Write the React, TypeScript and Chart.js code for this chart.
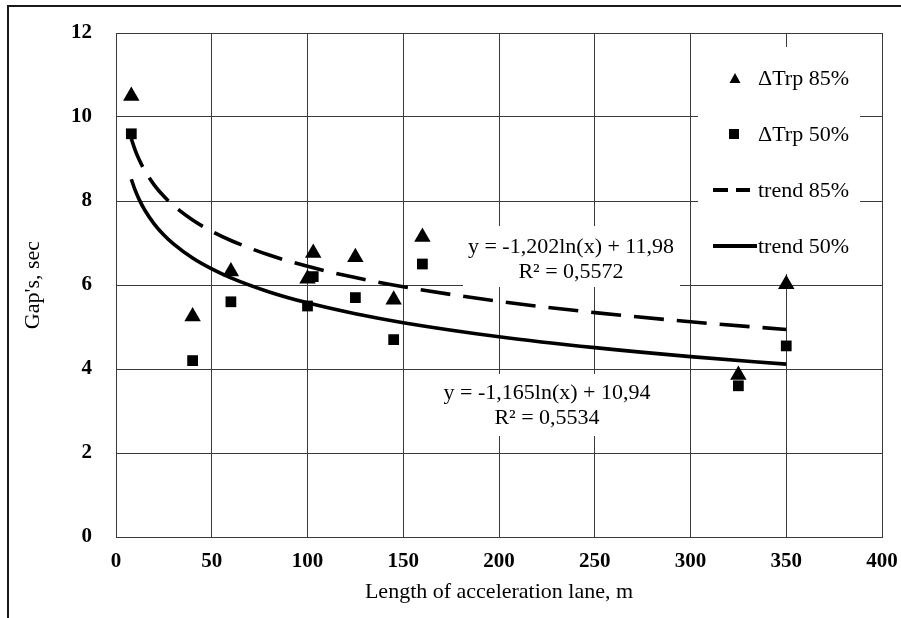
import { useEffect, useRef } from 'react';
import { Chart, registerables } from 'chart.js';

Chart.register(...registerables);

// ---- data ----
const lengthsM = [8, 40, 60, 100, 103, 125, 145, 160, 325, 350];
const gap85 = [10.5, 5.25, 6.32, 6.15, 6.76, 6.66, 5.65, 7.14, 3.86, 6.02];
const gap50 = [9.6, 4.2, 5.6, 5.5, 6.2, 5.7, 4.7, 6.5, 3.6, 4.55];

// trend lines, values read from the printed logarithmic trend equations
const trendX = [8, 10, 12, 15, 20, 25, 30, 40, 50, 60, 80, 100, 125, 150, 200, 250, 300, 350];
const trend85 = [9.48, 9.212, 8.993, 8.725, 8.379, 8.111, 7.892, 7.546, 7.278, 7.059, 6.713, 6.445, 6.176, 5.957, 5.611, 5.343, 5.124, 4.939];
const trend50 = [8.518, 8.257, 8.045, 7.785, 7.45, 7.19, 6.978, 6.642, 6.383, 6.17, 5.835, 5.575, 5.315, 5.103, 4.768, 4.508, 4.295, 4.116];

const seriesLabels = ['ΔTrp 85%', 'ΔTrp 50%', 'trend 85%', 'trend 50%'];
const eq85Lines = ['y = -1,202ln(x) + 11,98', 'R² = 0,5572'];
const eq50Lines = ['y = -1,165ln(x) + 10,94', 'R² = 0,5534'];
const xTitle = 'Length of acceleration lane, m';
const yTitle = "Gap's, sec";
const xTicks = [0, 50, 100, 150, 200, 250, 300, 350, 400];
const yTicks = [0, 2, 4, 6, 8, 10, 12];

const FONT = "'Liberation Serif', 'Times New Roman', serif";
const GRID = '#3a3a3a';

function drawTriangle(ctx: CanvasRenderingContext2D, cx: number, cy: number, w: number, h: number) {
  ctx.beginPath();
  ctx.moveTo(cx, cy - h / 2);
  ctx.lineTo(cx + w / 2, cy + h / 2);
  ctx.lineTo(cx - w / 2, cy + h / 2);
  ctx.closePath();
  ctx.fill();
}

const decorPlugin = {
  id: 'decor',
  beforeDatasetsDraw(chart: any) {
    const ctx = chart.ctx as CanvasRenderingContext2D;
    ctx.save();
    ctx.fillStyle = '#ffffff';
    // legend background
    ctx.fillRect(698, 47, 162, 227);
    // equation label backgrounds
    ctx.fillRect(463, 226, 217, 61);
    ctx.fillRect(437, 374, 220, 62);
    ctx.restore();
  },
  afterDraw(chart: any) {
    const ctx = chart.ctx as CanvasRenderingContext2D;
    ctx.save();
    // outer frame (top and left)
    ctx.strokeStyle = '#1a1a1a';
    ctx.lineWidth = 2;
    ctx.beginPath();
    ctx.moveTo(8, 618);
    ctx.lineTo(8, 6);
    ctx.lineTo(901, 6);
    ctx.stroke();

    // legend
    ctx.fillStyle = '#000';
    ctx.strokeStyle = '#000';
    ctx.font = `22px ${FONT}`;
    ctx.textBaseline = 'middle';
    ctx.textAlign = 'left';
    const rows = [78, 134, 190, 246];
    drawTriangle(ctx, 735, rows[0], 11, 10);
    ctx.fillRect(729, rows[1] - 5, 10, 10);
    ctx.lineWidth = 4;
    ctx.setLineDash([15, 8]);
    ctx.beginPath();
    ctx.moveTo(713, rows[2]);
    ctx.lineTo(750, rows[2]);
    ctx.stroke();
    ctx.setLineDash([]);
    ctx.beginPath();
    ctx.moveTo(713, rows[3]);
    ctx.lineTo(757, rows[3]);
    ctx.stroke();
    seriesLabels.forEach((t, i) => ctx.fillText(t, 758, rows[i] + 1));

    // equations
    ctx.textAlign = 'center';
    ctx.fillText(eq85Lines[0], 571, 247);
    ctx.fillText(eq85Lines[1], 571, 272);
    ctx.fillText(eq50Lines[0], 547, 393);
    ctx.fillText(eq50Lines[1], 547, 418);
    ctx.restore();
  },
};

export default function App() {
  const ref = useRef<HTMLCanvasElement | null>(null);

  useEffect(() => {
    document.body.style.margin = '0';
    const canvas = ref.current;
    if (!canvas) return;
    const chart = new Chart(canvas, {
      type: 'scatter',
      data: {
        datasets: [
          {
            label: seriesLabels[0],
            data: lengthsM.map((x, i) => ({ x, y: gap85[i] })),
            pointStyle: 'triangle',
            pointRadius: 9.5,
            pointBackgroundColor: '#000',
            pointBorderColor: '#000',
            pointBorderWidth: 0,
            showLine: false,
          },
          {
            label: seriesLabels[1],
            data: lengthsM.map((x, i) => ({ x, y: gap50[i] })),
            pointStyle: 'rect',
            pointRadius: 7.6,
            pointBackgroundColor: '#000',
            pointBorderColor: '#000',
            pointBorderWidth: 0,
            showLine: false,
          },
          {
            type: 'line',
            label: seriesLabels[2],
            data: trendX.map((x, i) => ({ x, y: trend85[i] })),
            borderColor: '#000',
            borderWidth: 3.6,
            borderDash: [30, 13],
            pointRadius: 0,
            cubicInterpolationMode: 'monotone',
            fill: false,
          },
          {
            type: 'line',
            label: seriesLabels[3],
            data: trendX.map((x, i) => ({ x, y: trend50[i] })),
            borderColor: '#000',
            borderWidth: 3.6,
            pointRadius: 0,
            cubicInterpolationMode: 'monotone',
            fill: false,
          },
        ] as any,
      },
      options: {
        animation: false,
        responsive: false,
        devicePixelRatio: 1,
        layout: { padding: { top: 33, right: 19, left: 0, bottom: 0 } },
        plugins: { legend: { display: false }, tooltip: { enabled: false } },
        scales: {
          x: {
            type: 'linear',
            min: xTicks[0],
            max: xTicks[xTicks.length - 1],
            afterBuildTicks: (s: any) => { s.ticks = xTicks.map((v) => ({ value: v })); },
            afterFit: (s: any) => { s.height = 81; s.paddingLeft = 0; s.paddingRight = 0; },
            ticks: {
              color: '#000',
              font: { family: FONT, size: 21, weight: 'bold' },
              padding: 12,
              maxRotation: 0,
              autoSkip: false,
            },
            grid: { color: GRID, lineWidth: 1, drawTicks: false },
            border: { display: true, color: GRID, width: 1 },
            title: {
              display: true,
              text: xTitle,
              color: '#000',
              font: { family: FONT, size: 22 },
              padding: { top: 0, bottom: 13 },
            },
          },
          y: {
            type: 'linear',
            min: yTicks[0],
            max: yTicks[yTicks.length - 1],
            afterBuildTicks: (s: any) => { s.ticks = yTicks.map((v) => ({ value: v })); },
            afterFit: (s: any) => { s.width = 116; s.paddingTop = 0; s.paddingBottom = 0; },
            ticks: {
              color: '#000',
              font: { family: FONT, size: 21, weight: 'bold' },
              padding: 24,
              autoSkip: false,
            },
            grid: { color: GRID, lineWidth: 1, drawTicks: false },
            border: { display: true, color: GRID, width: 1 },
            title: {
              display: true,
              text: yTitle,
              color: '#000',
              font: { family: FONT, size: 22 },
              padding: { top: 20, bottom: 0 },
            },
          },
        },
      } as any,
      plugins: [decorPlugin],
    });
    return () => chart.destroy();
  }, []);

  return (
    <div style={{ width: 901, height: 618 }}>
      <canvas ref={ref} width={901} height={618} style={{ display: 'block' }} />
    </div>
  );
}
